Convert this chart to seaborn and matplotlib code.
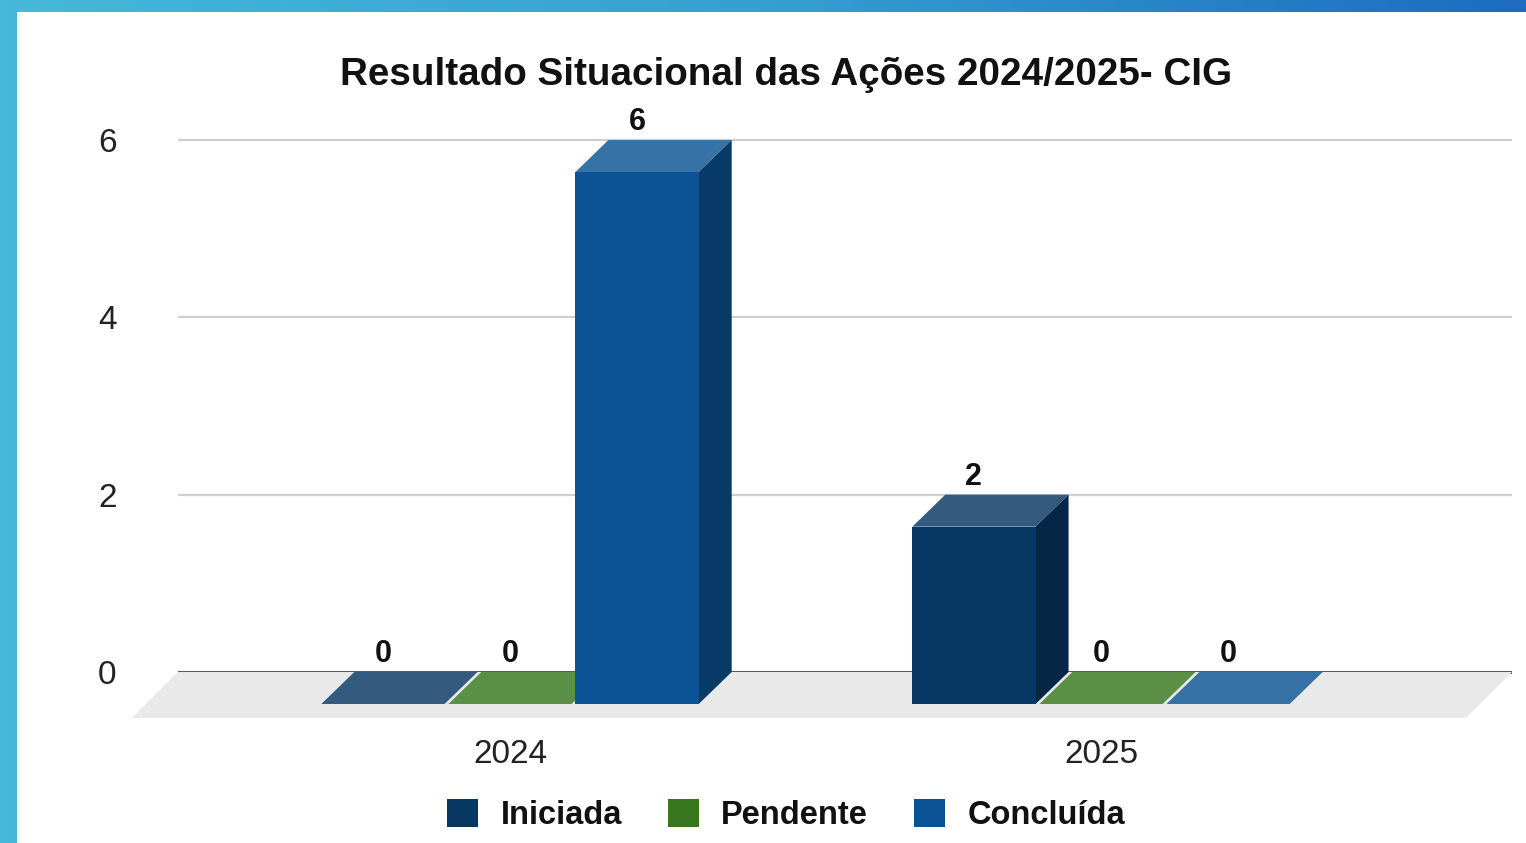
import numpy as np
import pandas as pd
import matplotlib
matplotlib.use("Agg")
import matplotlib.pyplot as plt
import seaborn as sns
from matplotlib.patches import Polygon, Rectangle, Patch
from matplotlib.colors import to_rgb, LinearSegmentedColormap

# ---------------- data ----------------
years = ["2024", "2025"]
statuses = ["Iniciada", "Pendente", "Concluída"]
iniciada = [0, 2]
pendente = [0, 0]
concluida = [6, 0]
y_ticks = [0, 2, 4, 6]
title = "Resultado Situacional das Ações 2024/2025- CIG"
colors = ["#073763", "#38761d", "#0b5394"]

df = pd.DataFrame({
    "Ano": years * 3,
    "Situação": [s for s in statuses for _ in years],
    "Valor": iniciada + pendente + concluida,
})

# ---------------- figure ----------------
W, H = 1526, 843
sns.set_theme(style="white")
plt.rcParams["font.family"] = ["Liberation Sans", "DejaVu Sans"]
fig = plt.figure(figsize=(W / 100, H / 100), dpi=100)


def box(x0, ytop, x1, ybot):
    return [x0 / W, 1 - ybot / H, (x1 - x0) / W, (ybot - ytop) / H]


# background frame with gradient
bg = fig.add_axes([0, 0, 1, 1], zorder=-10)
grad = np.linspace(0, 1, 256).reshape(1, -1)
cmap = LinearSegmentedColormap.from_list("frame", ["#46b8da", "#35a0d2", "#1d6cbf"])
bg.imshow(grad, extent=[0, 1, 0, 1], aspect="auto", cmap=cmap)
bg.add_patch(Rectangle((17 / W, 0), 1, 1 - 12 / H, color="white", lw=0))
bg.set_xlim(0, 1)
bg.set_ylim(0, 1)
bg.axis("off")

YLIM = (-0.158, 6.812)

# back wall axes (grid + y tick labels)
back = fig.add_axes(box(178, 68, 1512, 686), zorder=1)
back.set_facecolor("none")
back.set_xlim(0, 1)
back.set_ylim(*YLIM)
back.set_yticks(y_ticks)
back.set_yticklabels([str(t) for t in y_ticks], fontsize=24, color="#222222")
back.set_xticks([])
back.tick_params(axis="y", length=0, pad=51)
back.yaxis.grid(True, color="#cfcfcf", lw=1.6)
back.axhline(0, color="#333333", lw=1.8, zorder=3)
for s in back.spines.values():
    s.set_visible(False)
for lab in back.get_yticklabels():
    lab.set_horizontalalignment("center")
    lab.set_verticalalignment("center_baseline")

# front axes (bars)
front = fig.add_axes(box(132, 100, 1466, 718), zorder=2)
front.set_facecolor("none")
sns.barplot(data=df, x="Ano", y="Valor", hue="Situação", order=years,
            hue_order=statuses, palette=colors, saturation=1, width=0.645,
            gap=0.03, errorbar=None, legend=False, linewidth=0, ax=front)
front.set_xlim(-0.6396, 1.6176)
front.set_ylim(*YLIM)
front.set_ylabel("")
front.set_xlabel("")
front.set_yticks([])
front.set_xticks([0, 1])
front.set_xticklabels(years, fontsize=24, color="#222222")
front.tick_params(axis="x", length=0, pad=15)
for s in front.spines.values():
    s.set_visible(False)

bars = [p for p in front.patches if isinstance(p, Rectangle) and p.get_width() > 0]
bars = sorted(bars, key=lambda p: p.get_x())

fig.canvas.draw()
to_data = front.transData.inverted()

# floor
bl = front.transAxes.transform((0, 0))
br = front.transAxes.transform((1, 0))
y0_back = back.transData.transform((0, 0))[1]
tl = (back.transAxes.transform((0, 0))[0], y0_back)
tr = (back.transAxes.transform((1, 0))[0], y0_back)
floor = to_data.transform([bl, br, tr, tl])
front.add_patch(Polygon(floor, closed=True, facecolor="#e9e9e9", lw=0,
                        zorder=0.5, clip_on=False))


def mix(c, t):
    r = np.array(to_rgb(c))
    return tuple(r + (1 - r) * t)


def shade(c, f):
    return tuple(np.array(to_rgb(c)) * f)


DX, DY = 33, 32
for i, p in enumerate(bars):
    col = p.get_facecolor()
    x0, w, h = p.get_x(), p.get_width(), p.get_height()
    (X0, Y0) = front.transData.transform((x0, 0))
    (X1, Y1) = front.transData.transform((x0 + w, h))
    z = 2 + i
    p.set_zorder(z + 0.2)
    top = to_data.transform([(X0, Y1), (X1, Y1), (X1 + DX, Y1 + DY), (X0 + DX, Y1 + DY)])
    front.add_patch(Polygon(top, closed=True, facecolor=mix(col, 0.18), lw=0,
                            zorder=z + 0.1, clip_on=False))
    if h > 0:
        side = to_data.transform([(X1, Y0), (X1 + DX, Y0 + DY), (X1 + DX, Y1 + DY), (X1, Y1)])
        front.add_patch(Polygon(side, closed=True, facecolor=shade(col, 0.7), lw=0,
                                zorder=z + 0.1, clip_on=False))
    front.annotate(f"{int(round(h))}", (x0 + w / 2, h), xytext=(0, 50),
                   textcoords="offset pixels", ha="center", va="center",
                   fontsize=22, fontweight="bold", color="#111111", zorder=20,
                   annotation_clip=False)

# title
fig.text(786 / W, 1 - 75 / H, title, ha="center", va="center",
         fontsize=27.8, fontweight="bold", color="#111111")

# legend
handles = [Patch(facecolor=c, edgecolor="none") for c in colors]
fig.legend(handles, statuses, loc="center", bbox_to_anchor=(786 / W, 1 - 815 / H),
           ncol=3, frameon=False, prop={"size": 23.5, "weight": "bold"},
           handlelength=0.95, handleheight=0.95, handletextpad=0.7,
           columnspacing=1.4, labelcolor="#111111")

fig.savefig("out.png", dpi=100)
